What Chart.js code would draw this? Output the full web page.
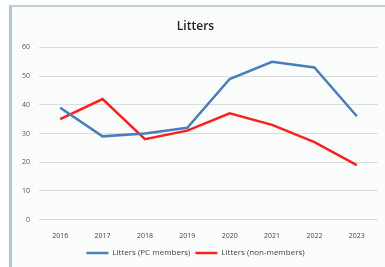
<!DOCTYPE html>
<html>
<head>
<meta charset="utf-8">
<script src="https://cdn.jsdelivr.net/npm/chart.js@4"></script>
<style>
  html, body { margin: 0; padding: 0; background: #ffffff; }
  #wrap { position: relative; width: 385px; height: 267px; overflow: hidden; }
  #frame {
    position: absolute; left: 9px; top: 5px; width: 400px; height: 300px;
    border-left: 3px solid #b7c6d5; border-top: 2px solid #c3d0dc;
    background: #fbfcfc;
  }
  canvas { position: absolute; left: 0; top: 0; }
</style>
</head>
<body>
<div id="wrap">
  <div id="frame"></div>
  <canvas id="chart" width="385" height="267"></canvas>
</div>
<script>
// chart data
const years = ["2016", "2017", "2018", "2019", "2020", "2021", "2022", "2023"];
const pcMembers = [39, 29, 30, 32, 49, 55, 53, 36];
const nonMembers = [35, 42, 28, 31, 37, 33, 27, 19];
const yTicks = [0, 10, 20, 30, 40, 50, 60];

function renderChart() {
  const ctx = document.getElementById("chart").getContext("2d");
  new Chart(ctx, {
    type: "line",
    data: {
      labels: years,
      datasets: [
        {
          label: "Litters (PC members)",
          data: pcMembers,
          borderColor: "#4a7ebb",
          backgroundColor: "#4a7ebb",
          borderWidth: 2.5,
          pointRadius: 0,
          tension: 0,
        },
        {
          label: "Litters (non-members)",
          data: nonMembers,
          borderColor: "#ff1f1f",
          backgroundColor: "#ff1f1f",
          borderWidth: 2.5,
          pointRadius: 0,
          tension: 0,
        },
      ],
    },
    options: {
      responsive: false,
      animation: false,
      layout: { padding: { left: 13, right: 7, top: 15, bottom: 0 } },
      plugins: {
        title: {
          display: true,
          text: "Litters",
          color: "#222",
          font: { family: "Open Sans", size: 12, weight: "600" },
          padding: { top: 4, bottom: 14 },
        },
        legend: {
          position: "bottom",
          labels: {
            usePointStyle: true,
            pointStyle: "line",
            pointStyleWidth: 22,
            boxHeight: 2,
            color: "#444",
            font: { family: "Open Sans", size: 8 },
            padding: 5,
          },
        },
        tooltip: { enabled: false },
      },
      scales: {
        x: {
          offset: true,
          grid: { display: false },
          border: { display: false },
          ticks: { color: "#444", font: { family: "Open Sans", size: 7 }, padding: 4 },
        },
        y: {
          min: 0,
          max: 60,
          afterBuildTicks: (axis) => {
            axis.ticks = yTicks.map((v) => ({ value: v }));
          },
          grid: { color: "#dcdcdc", lineWidth: 1, drawTicks: false },
          border: { display: false },
          ticks: { color: "#555", font: { family: "Open Sans", size: 7 }, padding: 9 },
        },
      },
    },
  });
}

renderChart();
</script>
</body>
</html>
